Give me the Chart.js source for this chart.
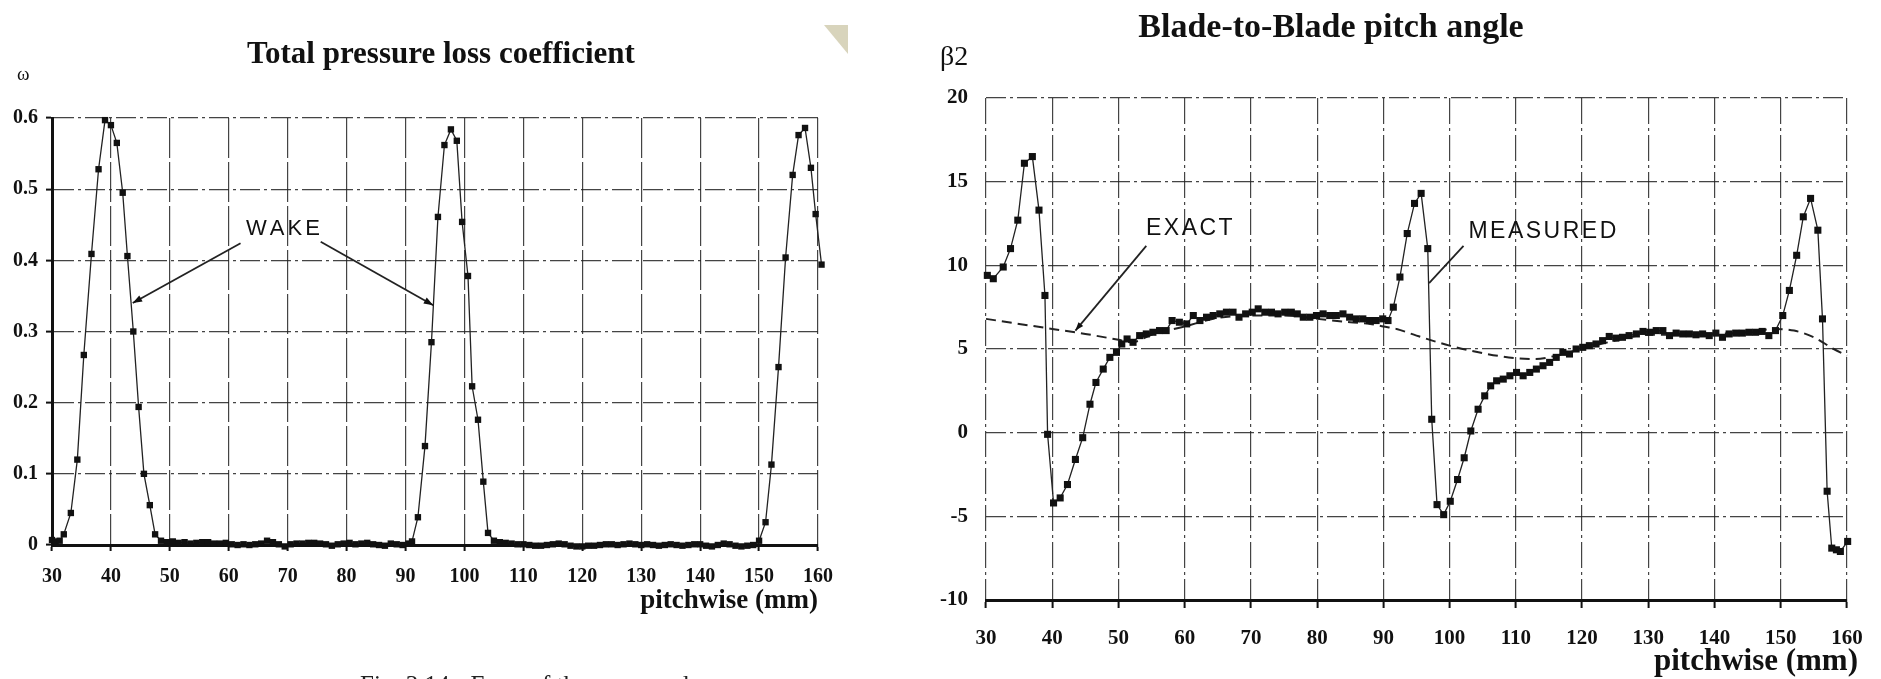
<!DOCTYPE html>
<html>
<head>
<meta charset="utf-8">
<title>Total pressure loss coefficient / Blade-to-Blade pitch angle</title>
<script src="https://cdn.jsdelivr.net/npm/chart.js@4.4.1/dist/chart.umd.min.js"></script>
<style>
  html, body { margin: 0; padding: 0; background: #fff; }
  body { width: 1881px; height: 679px; position: relative; overflow: hidden; }
  #wrapLoss { position: absolute; left: 0; top: 0; width: 880px; height: 679px; }
  #wrapBeta { position: absolute; left: 890px; top: 0; width: 991px; height: 679px; }
</style>
</head>
<body>
<div id="wrapLoss"><canvas id="loss" width="880" height="679"></canvas></div>
<div id="wrapBeta"><canvas id="beta" width="991" height="679"></canvas></div>
<script>
// ---- Total pressure loss coefficient (omega) vs pitchwise position (mm) ----
const lossX = [
  30.0, 30.6, 31.3, 32.0, 33.2, 34.3, 35.4, 36.7, 37.9, 39.0, 40.0, 41.0, 42.0, 42.8, 43.8, 44.7, 45.6, 46.6, 47.5,
  48.5, 49.5, 50.5, 51.5, 52.5, 53.5, 54.5, 55.5, 56.5, 57.5, 58.5, 59.5, 60.5, 61.5, 62.5, 63.5, 64.5, 65.5, 66.5, 67.5,
  68.5, 69.5, 70.5, 71.5, 72.5, 73.5, 74.5, 75.5, 76.5, 77.5, 78.5, 79.5, 80.5, 81.5, 82.5, 83.5, 84.5, 85.5, 86.5, 87.5,
  88.5, 89.5, 90.5,
  91.1, 92.1, 93.3, 94.4, 95.5, 96.6, 97.7, 98.7, 99.6, 100.6, 101.3, 102.3, 103.2, 104.0,
  105, 106, 107, 108, 109, 110, 111, 112, 113, 114, 115, 116, 117, 118, 119, 120, 121, 122, 123, 124, 125, 126, 127,
  128, 129, 130, 131, 132, 133, 134, 135, 136, 137, 138, 139, 140, 141, 142, 143, 144, 145, 146, 147, 148, 149,
  150.0, 151.1, 152.1, 153.3, 154.5, 155.7, 156.7, 157.8, 158.8, 159.6, 160.6, 160.8
];
const lossY = [
  0.007, 0.005, 0.006, 0.015, 0.045, 0.120, 0.267, 0.409, 0.528, 0.597, 0.590, 0.565, 0.495, 0.406, 0.300, 0.194, 0.100, 0.056, 0.015,
  0.006, 0.004, 0.005, 0.003, 0.004, 0.002, 0.003, 0.004, 0.004, 0.002, 0.002, 0.003, 0.001, 0.000, 0.001, 0.000, 0.001, 0.002, 0.006, 0.004,
  0.001, -0.002, 0.001, 0.002, 0.002, 0.003, 0.003, 0.002, 0.001, -0.001, 0.001, 0.002, 0.003, 0.001, 0.002, 0.003, 0.001, 0.000, -0.001, 0.002,
  0.001, 0.000, 0.002,
  0.005, 0.039, 0.139, 0.285, 0.461, 0.562, 0.584, 0.568, 0.454, 0.378, 0.223, 0.176, 0.089, 0.017,
  0.006, 0.004, 0.003, 0.002, 0.001, 0.001, 0.000, -0.001, -0.001, 0.000, 0.001, 0.002, 0.001, -0.001, -0.002, -0.002, -0.001, -0.001, 0.000, 0.001, 0.001, 0.000, 0.001,
  0.002, 0.001, 0.000, 0.001, 0.000, -0.001, 0.000, 0.001, 0.000, -0.001, 0.000, 0.001, 0.001, -0.001, -0.002, 0.000, 0.002, 0.001, -0.001, -0.002, -0.001, 0.000,
  0.006, 0.032, 0.113, 0.250, 0.404, 0.520, 0.576, 0.586, 0.530, 0.465, 0.394, 0.219
];

// ---- Blade-to-blade pitch angle beta2: measured points and exact curve ----
const betaX = [
  30.2, 31.1, 32.6, 33.7, 34.8, 35.8, 37.0, 38.0, 38.9, 39.3, 40.2, 41.2, 42.3, 43.5, 44.6, 45.7, 46.6, 47.7, 48.7, 49.7,
  50.5, 51.3, 52.2, 53.2, 54.2, 55.2, 56.2, 57.2, 58.1, 59.2, 60.3, 61.3, 62.3, 63.3, 64.3, 65.3, 66.3, 67.3, 68.2, 69.2,
  70.2, 71.1, 72.1, 73.1, 74.1, 75.1, 76.1, 77.0, 77.9, 78.9, 79.9, 80.9, 81.9, 82.9, 83.9, 84.9, 85.9, 86.9, 87.9, 88.9,
  89.9, 90.7, 91.5, 92.5, 93.6, 94.7, 95.7, 96.7, 97.3, 98.1, 99.1, 100.1, 101.2, 102.2, 103.2, 104.3, 105.3, 106.2, 107.1, 108.1,
  109.1, 110.1, 111.1, 112.1, 113.1, 114.1, 115.1, 116.1, 117.1, 118.1, 119.1, 120.1, 121.1, 122.1, 123.1, 124.1, 125.1, 126.1, 127.1, 128.2,
  129.2, 130.2, 131.2, 132.2, 133.2, 134.2, 135.2, 136.2, 137.2, 138.2, 139.2, 140.2, 141.2, 142.2, 143.2, 144.2, 145.2, 146.2, 147.2, 148.2,
  149.2, 150.3, 151.3, 152.4, 153.4, 154.5, 155.6, 156.3, 157.0, 157.7, 158.4, 159.0, 160.1, 160.6
];
const betaY = [
  9.4, 9.2, 9.9, 11.0, 12.7, 16.1, 16.5, 13.3, 8.2, -0.1, -4.2, -3.9, -3.1, -1.6, -0.3, 1.7, 3.0, 3.8, 4.5, 4.8,
  5.3, 5.6, 5.4, 5.8, 5.9, 6.0, 6.1, 6.1, 6.7, 6.6, 6.5, 7.0, 6.7, 6.9, 7.0, 7.1, 7.2, 7.2, 6.9, 7.1,
  7.2, 7.4, 7.2, 7.2, 7.1, 7.2, 7.2, 7.1, 6.9, 6.9, 7.0, 7.1, 7.0, 7.0, 7.1, 6.9, 6.8, 6.8, 6.7, 6.7,
  6.8, 6.7, 7.5, 9.3, 11.9, 13.7, 14.3, 11.0, 0.8, -4.3, -4.9, -4.1, -2.8, -1.5, 0.1, 1.4, 2.2, 2.8, 3.1, 3.2,
  3.4, 3.6, 3.4, 3.6, 3.8, 4.0, 4.2, 4.5, 4.8, 4.7, 5.0, 5.1, 5.2, 5.3, 5.5, 5.75, 5.65, 5.7, 5.8, 5.9,
  6.05, 6.0, 6.1, 6.1, 5.8, 5.95, 5.9, 5.9, 5.85, 5.9, 5.8, 5.95, 5.7, 5.9, 5.95, 5.95, 6.0, 6.0, 6.05, 5.8,
  6.1, 7.0, 8.5, 10.6, 12.9, 14.0, 12.1, 6.8, -3.5, -6.9, -7.0, -7.1, -6.5, -3.9
];
const exactX = [30, 35, 40, 45, 50, 52, 55, 60, 65, 70, 75, 80, 85, 88, 90, 92, 95, 100, 105, 110, 113, 116,
  120, 125, 130, 135, 140, 145, 149, 152, 155, 158, 160];
const exactY = [6.8, 6.5, 6.2, 5.9, 5.55, 5.4, 5.85, 6.35, 6.85, 7.0, 7.0, 6.8, 6.6, 6.5, 6.35, 6.2, 5.8, 5.2, 4.75, 4.45, 4.4, 4.6,
  5.0, 5.5, 5.85, 5.85, 5.9, 6.0, 6.2, 6.1, 5.7, 5.0, 4.6];

// ---- tick values ----
const pitchTicks = [30, 40, 50, 60, 70, 80, 90, 100, 110, 120, 130, 140, 150, 160];
const lossTicks = [0, 0.1, 0.2, 0.3, 0.4, 0.5, 0.6];
const betaTicks = [-10, -5, 0, 5, 10, 15, 20];

// ---- text ----
const lossTitle = 'Total pressure loss coefficient';
const betaTitle = 'Blade-to-Blade pitch angle';
const lossAxisName = 'ω';
const betaAxisName = 'β2';
const pitchCaption = 'pitchwise (mm)';
const figCaption = 'Fig. 3.14 - Error of the measured';

// ---- callouts, placed in data units ----
const wakeNote = { text: 'WAKE', x: 69.2, y: 0.444, arrows: [[62.0, 0.424, 43.7, 0.340], [75.6, 0.426, 94.7, 0.337]] };
const exactNote = { text: 'EXACT', x: 60.7, y: 12.2, leader: [54.2, 11.16, 43.5, 6.1] };
const measuredNote = { text: 'MEASURED', x: 114.0, y: 12.0, leader: [102.1, 11.16, 96.9, 8.94] };

const toPoints = (xs, ys) => xs.map((x, i) => ({ x, y: ys[i] }));

const SERIF = '"Liberation Serif", "Times New Roman", serif';
const SANS = '"Liberation Sans", Arial, sans-serif';
const INK = '#111';
const GRID = 'rgba(35,35,35,0.85)';

function spacedText(ctx, str, cx, cy, spacing) {
  const chars = [...str];
  const widths = chars.map(c => ctx.measureText(c).width);
  const total = widths.reduce((a, b) => a + b, 0) + spacing * (chars.length - 1);
  let x = cx - total / 2;
  ctx.textAlign = 'left';
  ctx.textBaseline = 'middle';
  chars.forEach((c, i) => { ctx.fillText(c, x, cy); x += widths[i] + spacing; });
}

function leader(ctx, x1, y1, x2, y2, head) {
  ctx.beginPath();
  ctx.moveTo(x1, y1);
  ctx.lineTo(x2, y2);
  ctx.stroke();
  if (head) {
    const a = Math.atan2(y2 - y1, x2 - x1);
    ctx.beginPath();
    ctx.moveTo(x2, y2);
    ctx.lineTo(x2 - head * Math.cos(a - 0.35), y2 - head * Math.sin(a - 0.35));
    ctx.lineTo(x2 - head * Math.cos(a + 0.35), y2 - head * Math.sin(a + 0.35));
    ctx.closePath();
    ctx.fill();
  }
}

Chart.defaults.animation = false;
Chart.defaults.responsive = false;
Chart.defaults.devicePixelRatio = 1;
Chart.defaults.plugins.legend.display = false;
Chart.defaults.plugins.tooltip.enabled = false;

// ---------------- loss coefficient chart ----------------
const lossDecor = {
  id: 'lossDecor',
  afterDraw(chart) {
    const { ctx, scales: { x, y } } = chart;
    ctx.save();
    ctx.fillStyle = INK;
    ctx.strokeStyle = '#222';

    ctx.font = 'bold 31px ' + SERIF;
    ctx.textAlign = 'center';
    ctx.textBaseline = 'alphabetic';
    ctx.fillText(lossTitle, 441, 63);

    ctx.font = '19px ' + SERIF;
    ctx.textAlign = 'left';
    ctx.fillText(lossAxisName, 17, 80);

    ctx.font = 'bold 27px ' + SERIF;
    ctx.textAlign = 'right';
    ctx.fillText(pitchCaption, x.right, 608);

    ctx.font = '25px ' + SERIF;
    ctx.textAlign = 'left';
    ctx.fillStyle = '#222';
    ctx.fillText(figCaption, 360, 693);

    // scanner shadow in the top corner of the page
    ctx.fillStyle = 'rgba(200,194,160,0.7)';
    ctx.beginPath();
    ctx.moveTo(824, 25); ctx.lineTo(848, 25); ctx.lineTo(848, 54);
    ctx.closePath();
    ctx.fill();

    ctx.fillStyle = INK;
    ctx.font = '22px ' + SANS;
    spacedText(ctx, wakeNote.text, x.getPixelForValue(wakeNote.x), y.getPixelForValue(wakeNote.y), 3);
    ctx.lineWidth = 1.8;
    wakeNote.arrows.forEach(a => leader(ctx,
      x.getPixelForValue(a[0]), y.getPixelForValue(a[1]),
      x.getPixelForValue(a[2]), y.getPixelForValue(a[3]), 10));
    ctx.restore();
  }
};

new Chart(document.getElementById('loss'), {
  type: 'scatter',
  data: {
    datasets: [{
      data: toPoints(lossX, lossY),
      showLine: true,
      borderColor: '#222',
      borderWidth: 1.3,
      backgroundColor: INK,
      pointStyle: 'rect',
      pointRadius: 4.5,
      pointBorderWidth: 0,
      clip: false
    }]
  },
  options: {
    layout: { padding: { left: 0, top: 118, right: 62, bottom: 74 } },
    scales: {
      x: {
        type: 'linear', min: 30, max: 160,
        afterBuildTicks: s => { s.ticks = pitchTicks.map(v => ({ value: v })); },
        afterFit: s => { s.height = 60; },
        ticks: { color: INK, padding: 14, maxRotation: 0, autoSkip: false,
                 font: { family: SERIF, weight: 'bold', size: 20 } },
        grid: { color: GRID, lineWidth: 1.2, tickLength: 6, tickWidth: 2, tickColor: INK },
        border: { display: true, width: 3, color: INK, dash: [40, 4] }
      },
      y: {
        type: 'linear', min: 0, max: 0.6,
        afterBuildTicks: s => { s.ticks = lossTicks.map(v => ({ value: v })); },
        afterFit: s => { s.width = 52; },
        ticks: { color: INK, padding: 8, callback: v => (v === 0 ? '0' : v.toFixed(1)),
                 font: { family: SERIF, weight: 'bold', size: 20 } },
        grid: { color: GRID, lineWidth: 1.2, tickLength: 6, tickWidth: 2, tickColor: INK },
        border: { display: true, width: 3, color: INK, dash: [20, 4, 3, 4] }
      }
    }
  },
  plugins: [lossDecor]
});

// ---------------- pitch angle chart ----------------
const betaDecor = {
  id: 'betaDecor',
  afterDraw(chart) {
    const { ctx, scales: { x, y } } = chart;
    ctx.save();
    ctx.fillStyle = INK;
    ctx.strokeStyle = '#222';

    ctx.font = 'bold 34px ' + SERIF;
    ctx.textAlign = 'center';
    ctx.textBaseline = 'alphabetic';
    ctx.fillText(betaTitle, 441, 37);

    ctx.font = '28px ' + SERIF;
    ctx.textAlign = 'left';
    ctx.fillText(betaAxisName, 50, 65);

    ctx.font = 'bold 31px ' + SERIF;
    ctx.textAlign = 'right';
    ctx.fillText(pitchCaption, 968, 670);

    ctx.font = '23px ' + SANS;
    spacedText(ctx, exactNote.text, x.getPixelForValue(exactNote.x), y.getPixelForValue(exactNote.y), 2.5);
    spacedText(ctx, measuredNote.text, x.getPixelForValue(measuredNote.x), y.getPixelForValue(measuredNote.y), 2.5);
    ctx.lineWidth = 1.8;
    const e = exactNote.leader, m = measuredNote.leader;
    leader(ctx, x.getPixelForValue(e[0]), y.getPixelForValue(e[1]), x.getPixelForValue(e[2]), y.getPixelForValue(e[3]), 9);
    leader(ctx, x.getPixelForValue(m[0]), y.getPixelForValue(m[1]), x.getPixelForValue(m[2]), y.getPixelForValue(m[3]), 0);
    ctx.restore();
  }
};

new Chart(document.getElementById('beta'), {
  type: 'scatter',
  data: {
    datasets: [{
      data: toPoints(betaX, betaY),
      showLine: true,
      borderColor: '#222',
      borderWidth: 1.3,
      backgroundColor: INK,
      pointStyle: 'rect',
      pointRadius: 5,
      pointBorderWidth: 0,
      clip: false,
      order: 1
    }, {
      data: toPoints(exactX, exactY),
      showLine: true,
      borderColor: '#222',
      borderWidth: 2,
      borderDash: [10, 6],
      cubicInterpolationMode: 'monotone',
      pointRadius: 0,
      clip: false,
      order: 2
    }]
  },
  options: {
    layout: { padding: { left: 0, top: 98, right: 34, bottom: 29 } },
    scales: {
      x: {
        type: 'linear', min: 30, max: 160,
        afterBuildTicks: s => { s.ticks = pitchTicks.map(v => ({ value: v })); },
        afterFit: s => { s.height = 50; },
        ticks: { color: INK, padding: 18, maxRotation: 0, autoSkip: false,
                 font: { family: SERIF, weight: 'bold', size: 21 } },
        grid: { color: GRID, lineWidth: 1.2, tickLength: 8, tickWidth: 2, tickColor: INK },
        border: { display: true, width: 3, color: INK, dash: [26, 4, 3, 4] }
      },
      y: {
        type: 'linear', min: -10, max: 20,
        afterBuildTicks: s => { s.ticks = betaTicks.map(v => ({ value: v })); },
        afterFit: s => { s.width = 96; },
        ticks: { color: INK, padding: 18,
                 font: { family: SERIF, weight: 'bold', size: 21 } },
        grid: { color: GRID, lineWidth: 1.2, drawTicks: false },
        border: { display: false, dash: [20, 4, 3, 4] }
      }
    }
  },
  plugins: [betaDecor]
});
</script>
</body>
</html>
